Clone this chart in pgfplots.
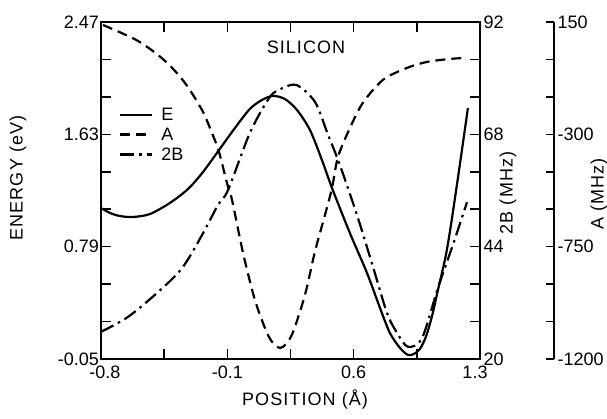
\documentclass[border=0pt]{standalone}
\usepackage{fontspec}
\setmainfont{Liberation Sans}
\usepackage{pgfplots}
\pgfplotsset{compat=1.18}
\newcommand\lf{\fontsize{18}{20}\selectfont}
\newcommand\lbl{\fontsize{18}{20}\selectfont\addfontfeature{LetterSpace=6}}
\pgfplotsset{
  common/.style={
    scale only axis, width=379pt, height=337pt,
    at={(101pt,60pt)}, anchor=south west,
    xmin=-0.8, xmax=1.3,
    tick align=inside,
    major tick length=10pt, minor tick length=10pt,
    every tick/.style={black, line width=1.5pt},
    every minor tick/.style={black, line width=1.5pt},
    tick label style={font=\lf},
    /pgf/number format/assume math mode=true,
  },
}
\begin{document}
\begin{tikzpicture}
\useasboundingbox (0,0) rectangle (607pt,419pt);

% energy axis
\begin{axis}[common,
  ymin=-0.05, ymax=2.47,
  axis line style={line width=1.8pt},
  xtick={-0.8,-0.1,0.6,1.3},
  xticklabels={\hspace*{8pt}-0.8,-0.1,0.6,1.3\hspace*{10pt}},
  xticklabel style={yshift=-3pt},
  minor xtick={-0.45,0.25,0.95},
  xtick pos=both,
  ytick={-0.05,0.79,1.63,2.47}, yticklabels={-0.05,0.79,1.63,2.47},
  minor ytick={0.23,0.51,1.07,1.35,1.91,2.19},
  ytick pos=left,
  yticklabel style={inner sep=2pt},
  legend style={at={(0.0475,0.752)}, anchor=north west, draw=none, fill=none,
    font=\lf, inner sep=0pt, row sep=2pt},
  legend cell align=left,
  legend image code/.code={\draw[#1] (0pt,0pt) -- (32pt,0pt);},
]
\addplot[black, line width=2.2pt, smooth] coordinates {
(-0.800,1.079) (-0.750,1.042) (-0.695,1.019) (-0.623,1.012) (-0.529,1.034)
(-0.418,1.117) (-0.318,1.221) (-0.235,1.348) (-0.146,1.513) (-0.058,1.677)
(0.025,1.820) (0.092,1.887) (0.153,1.917) (0.219,1.894) (0.286,1.812)
(0.358,1.662) (0.424,1.438) (0.480,1.229) (0.579,0.892) (0.674,0.593)
(0.746,0.331) (0.801,0.144) (0.857,0.032) (0.901,-0.020) (0.934,-0.012)
(0.967,0.025) (1.000,0.115) (1.033,0.265) (1.067,0.466) (1.117,0.770)
(1.172,1.251) (1.233,1.827)
};
\addlegendentry{\hspace*{6pt}E}
\addlegendimage{black, line width=2.2pt, dash pattern=on 10pt off 6pt}
\addlegendentry{\hspace*{6pt}A}
\addlegendimage{black, line width=2.2pt, dash pattern=on 14pt off 5pt on 2.5pt off 5pt}
\addlegendentry{\hspace*{6pt}2B}
\end{axis}

% 2B axis (right)
\begin{axis}[common,
  ymin=20, ymax=92,
  hide x axis, axis y line*=right,
  axis line style={line width=1.8pt},
  ytick={20,44,68,92}, yticklabels={20,44,68,92},
  minor ytick={28,36,52,60,76,84},
]
\addplot[black, line width=2.2pt, smooth, dash pattern=on 14pt off 5pt on 2.5pt off 5pt] coordinates {
(-0.800,25.8) (-0.650,29.0) (-0.484,34.3) (-0.351,39.4) (-0.240,46.5)
(-0.152,52.9) (-0.096,56.1) (0.025,68.3) (0.136,76.0) (0.208,77.9)
(0.286,78.5) (0.386,74.9) (0.458,67.9) (0.524,61.4) (0.618,50.8)
(0.707,39.7) (0.785,29.8) (0.840,25.6) (0.901,22.6) (0.979,24.5)
(1.067,35.2) (1.150,44.4) (1.228,53.5)
};
\end{axis}

% A curve
\begin{axis}[common, hide axis, ymin=-1200, ymax=150]
\addplot[black, line width=2.2pt, smooth, dash pattern=on 10pt off 6pt] coordinates {
(-0.789,138) (-0.595,74) (-0.445,-6) (-0.335,-94) (-0.240,-203)
(-0.185,-295) (-0.146,-371) (-0.102,-495) (-0.074,-563) (-0.013,-775)
(0.053,-964) (0.120,-1096) (0.158,-1140) (0.192,-1156) (0.225,-1140)
(0.264,-1092) (0.330,-944) (0.385,-771) (0.441,-623) (0.480,-515)
(0.513,-391) (0.579,-275) (0.651,-174) (0.762,-82) (0.895,-34)
(1.006,-10) (1.133,2) (1.216,6)
};
\end{axis}

% A axis (separate)
\begin{axis}[scale only axis, width=20pt, height=337pt,
  at={(534pt,60pt)}, anchor=south west,
  xmin=0, xmax=1, ymin=-1200, ymax=150,
  hide x axis, axis y line*=right,
  axis line style={line width=1.8pt},
  tick align=inside,
  major tick length=8pt, minor tick length=8pt,
  every tick/.style={black, line width=1.5pt},
  every minor tick/.style={black, line width=1.5pt},
  tick label style={font=\lf},
  ytick={-1200,-750,-300,150}, yticklabels={-1200,-750,-300,150},
  minor ytick={-1050,-900,-600,-450,-150,0},
]
\end{axis}

\node[font=\lbl, rotate=90] at (18pt,241pt) {ENERGY (eV)};
\node[font=\lbl, rotate=90] at (508pt,226pt) {2B (MHz)};
\node[font=\lbl, rotate=90] at (599pt,225pt) {A (MHz)};
\node[font=\lbl] at (305pt,19pt) {POSITION (Å)};
\node[font=\lbl] at (306pt,372pt) {SILICON};
\end{tikzpicture}
\end{document}
